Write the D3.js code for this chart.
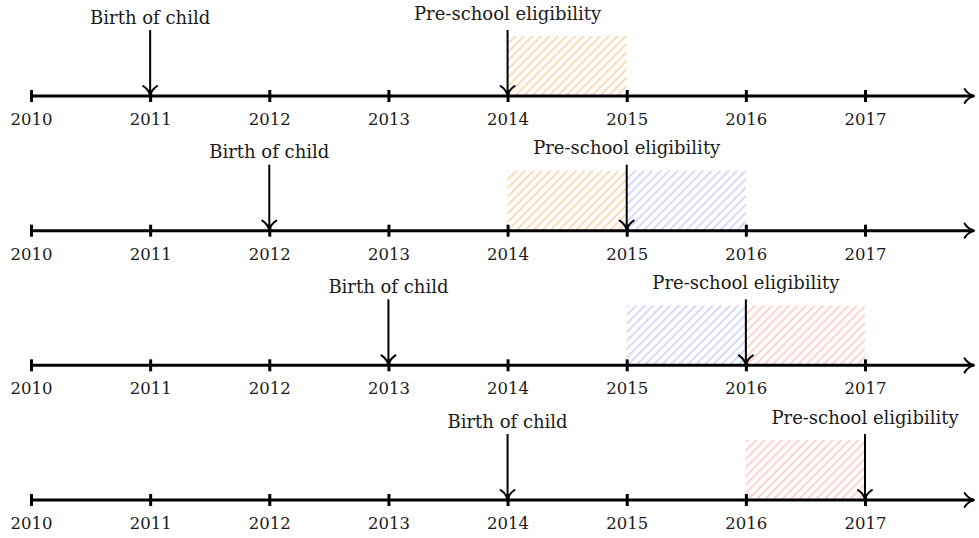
<!DOCTYPE html>
<html lang="en">

<head>
    <meta charset="UTF-8">
    <script src="https://d3js.org/d3.v7.min.js"></script>
    <title>Timelines</title>
    <style>
        body { margin: 0; background: #fff; }
        text { font-family: "DejaVu Serif", "Liberation Serif", serif; fill: #1a1a1a; }
    </style>
</head>

<body>
    <div id="my_chart"></div>
    <script>
        // data
        var years = [2010, 2011, 2012, 2013, 2014, 2015, 2016, 2017];
        var births = [2011, 2012, 2013, 2014];
        var eligibility = [2014, 2015, 2016, 2017];
        var windowStart = [[2014], [2014, 2015], [2015, 2016], [2016]];
        var windowEnd = [[2015], [2015, 2016], [2016, 2017], [2017]];
        var windowGroup = [["a"], ["a", "b"], ["b", "c"], ["c"]];
        var birthLabel = "Birth of child";
        var eligLabel = "Pre-school eligibility";

        var width = 979, height = 538;

        var svg = d3.select("#my_chart")
            .append("svg")
            .attr("width", width)
            .attr("height", height);

        var x = d3.scaleLinear().domain([2010, 2017]).range([31, 865]);
        var row = d3.scaleLinear().domain([0, 3]).range([96, 500]);
        var colour = d3.scaleOrdinal().domain(["a", "b", "c"]).range(["#ffa04a", "#9a9aff", "#ff8c8c"]);

        // hatch patterns
        var defs = svg.append("defs");
        colour.domain().forEach(function (g) {
            var p = defs.append("pattern")
                .attr("id", "hatch-" + g)
                .attr("patternUnits", "userSpaceOnUse")
                .attr("width", 6).attr("height", 6)
                .attr("patternTransform", "rotate(-45)");
            [0, 6].forEach(function (yy) {
                p.append("line")
                    .attr("x1", 0).attr("y1", yy).attr("x2", 6).attr("y2", yy)
                    .attr("stroke", colour(g))
                    .attr("stroke-width", 1.2)
                    .attr("stroke-opacity", 0.65);
            });
        });

        function arrowHead(g, tx, ty, dir) {
            // tikz "to" style barbs; dir: "down" or "right"
            var d = dir === "down"
                ? "M" + (tx - 7) + "," + (ty - 10) + " Q" + (tx - 1) + "," + (ty - 6) + " " + tx + "," + ty +
                  " Q" + (tx + 1) + "," + (ty - 6) + " " + (tx + 7) + "," + (ty - 10)
                : "M" + (tx - 10) + "," + (ty - 7) + " Q" + (tx - 6) + "," + (ty - 1) + " " + tx + "," + ty +
                  " Q" + (tx - 6) + "," + (ty + 1) + " " + (tx - 10) + "," + (ty + 7);
            g.append("path").attr("d", d)
                .attr("fill", "none").attr("stroke", "#000")
                .attr("stroke-width", 2).attr("stroke-linecap", "round");
        }

        births.forEach(function (b, i) {
            var y0 = row(i);
            var g = svg.append("g");

            // shaded windows
            windowStart[i].forEach(function (s, k) {
                g.append("rect")
                    .attr("x", x(s))
                    .attr("y", y0 - 60)
                    .attr("width", x(windowEnd[i][k]) - x(s))
                    .attr("height", 60)
                    .attr("fill", "url(#hatch-" + windowGroup[i][k] + ")");
            });

            // axis
            var axis = g.append("g")
                .attr("transform", "translate(0," + y0 + ")")
                .call(d3.axisBottom(x).tickValues(years).tickFormat(d3.format("d")).tickSize(6));
            axis.select(".domain").remove();
            axis.selectAll(".tick line")
                .attr("y1", -6).attr("y2", 6)
                .attr("stroke", "#000").attr("stroke-width", 3);
            axis.selectAll(".tick text")
                .attr("y", 23)
                .attr("dy", "0.36em")
                .attr("fill", "#1a1a1a")
                .style("font-size", "16.5px")
                .style("font-family", "'DejaVu Serif', serif");

            var xEnd = x(2017.92);
            g.append("line")
                .attr("x1", x(2010)).attr("x2", xEnd - 1)
                .attr("y1", y0).attr("y2", y0)
                .attr("stroke", "#000").attr("stroke-width", 3);
            arrowHead(g, xEnd, y0, "right");

            // event arrows
            [[b, birthLabel, 79], [eligibility[i], eligLabel, 83]].forEach(function (ev) {
                var ex = x(ev[0]);
                g.append("line")
                    .attr("x1", ex).attr("x2", ex)
                    .attr("y1", y0 - 66).attr("y2", y0 - 1)
                    .attr("stroke", "#000").attr("stroke-width", 2);
                arrowHead(g, ex, y0, "down");
                g.append("text")
                    .attr("x", ex)
                    .attr("y", y0 - ev[2])
                    .attr("text-anchor", "middle")
                    .attr("dominant-baseline", "central")
                    .style("font-size", "18px")
                    .text(ev[1]);
            });
        });
    </script>
</body>

</html>
